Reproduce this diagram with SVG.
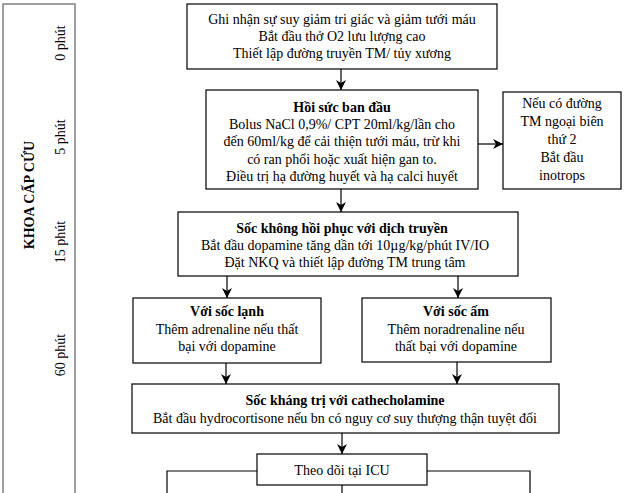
<svg xmlns="http://www.w3.org/2000/svg" width="625" height="493" viewBox="0 0 625 493">
<defs>
<marker id="ah" viewBox="0 0 10 10" refX="10" refY="5" markerWidth="10" markerHeight="10" markerUnits="userSpaceOnUse" orient="auto">
<path d="M0,0 L10,5 L0,10 L3,5 Z" fill="#000"/>
</marker>
<style>
.box{fill:#fff;stroke:#000;stroke-width:1.2}
.t{font-family:"Liberation Serif","Times New Roman",serif;font-size:14px;fill:#000;text-anchor:middle}
.b{font-weight:bold}
.c{fill:none;stroke:#000;stroke-width:1.2}
.ca{fill:none;stroke:#000;stroke-width:1.2;marker-end:url(#ah)}
</style>
</defs>
<rect width="625" height="493" fill="#fff"/>
<g id="panel">
<rect x="3" y="4" width="72" height="500" fill="#fff" stroke="#808080" stroke-width="1.5"/>
<text class="t b" transform="translate(34,195) rotate(-90)" font-size="15">KHOA CẤP CỨU</text>
<text class="t" transform="translate(65,43) rotate(-90)">0 phút</text>
<text class="t" transform="translate(65,137) rotate(-90)">5 phút</text>
<text class="t" transform="translate(65,242) rotate(-90)">15 phút</text>
<text class="t" transform="translate(65,355) rotate(-90)">60 phút</text>
</g>
<g id="connectors">
<line class="ca" x1="341" y1="69" x2="341" y2="90"/>
<line class="ca" x1="478" y1="144" x2="503" y2="144"/>
<line class="ca" x1="341" y1="189" x2="341" y2="212"/>
<line class="ca" x1="227" y1="276" x2="227" y2="298"/>
<line class="ca" x1="458" y1="276" x2="458" y2="298"/>
<line class="ca" x1="226" y1="363" x2="226" y2="384"/>
<line class="ca" x1="457" y1="362" x2="457" y2="384"/>
<line class="ca" x1="342" y1="433" x2="342" y2="454"/>
<polyline class="c" points="257,471 167,471 167,493"/>
<polyline class="c" points="427,471 530,471 530,493"/>
<line class="c" x1="342" y1="485" x2="342" y2="493"/>
</g>
<g id="n1">
<rect class="box" x="187" y="4" width="310" height="65"/>
<text class="t" x="342" y="24">Ghi nhận sự suy giảm tri  giác và giảm tưới máu</text>
<text class="t" x="342" y="41">Bắt đầu thở O2 lưu lượng cao</text>
<text class="t" x="342" y="58">Thiết lập đường truyền TM/ tủy xương</text>
</g>
<g id="n2">
<rect class="box" x="206" y="90" width="272" height="99"/>
<text class="t b" x="342" y="112">Hồi sức ban đầu</text>
<text class="t" x="342" y="129">Bolus NaCl 0,9%/ CPT 20ml/kg/lần  cho</text>
<text class="t" x="342" y="146">đến 60ml/kg để cải thiện tưới máu, trừ khi</text>
<text class="t" x="342" y="164">có ran phổi hoặc xuất hiện gan to.</text>
<text class="t" x="342" y="181">Điều trị hạ đường huyết và hạ calci  huyết</text>
</g>
<g id="n3">
<rect class="box" x="503" y="92" width="118" height="97"/>
<text class="t" x="562" y="108">Nếu có đường</text>
<text class="t" x="562" y="126">TM ngoại biên</text>
<text class="t" x="562" y="144">thứ 2</text>
<text class="t" x="562" y="162">Bắt đầu</text>
<text class="t" x="562" y="180">inotrops</text>
</g>
<g id="n4">
<rect class="box" x="178" y="212" width="340" height="64"/>
<text class="t b" x="342" y="233">Sốc không hồi phục với dịch truyền</text>
<text class="t" x="345" y="250">Bắt đầu dopamine tăng dần tới  10µg/kg/phút IV/IO</text>
<text class="t" x="345" y="267">Đặt NKQ và thiết lập đường TM trung tâm</text>
</g>
<g id="n5">
<rect class="box" x="133" y="298" width="188" height="65"/>
<text class="t b" x="227" y="316">Với sốc lạnh</text>
<text class="t" x="227" y="334">Thêm adrenaline nếu thất</text>
<text class="t" x="227" y="351">bại với dopamine</text>
</g>
<g id="n6">
<rect class="box" x="362" y="298" width="189" height="64"/>
<text class="t b" x="456" y="316">Với sốc ấm</text>
<text class="t" x="456" y="334">Thêm noradrenaline nếu</text>
<text class="t" x="456" y="351">thất bại với dopamine</text>
</g>
<g id="n7">
<rect class="box" x="132" y="384" width="427" height="49"/>
<text class="t b" x="345" y="405">Sốc kháng trị với cathecholamine</text>
<text class="t" x="345" y="423">Bắt đầu hydrocortisone nếu bn có nguy cơ suy thượng thận tuyệt đối</text>
</g>
<g id="n8">
<rect class="box" x="257" y="454" width="170" height="31"/>
<text class="t" x="342" y="475">Theo dõi tại ICU</text>
</g>
</svg>
